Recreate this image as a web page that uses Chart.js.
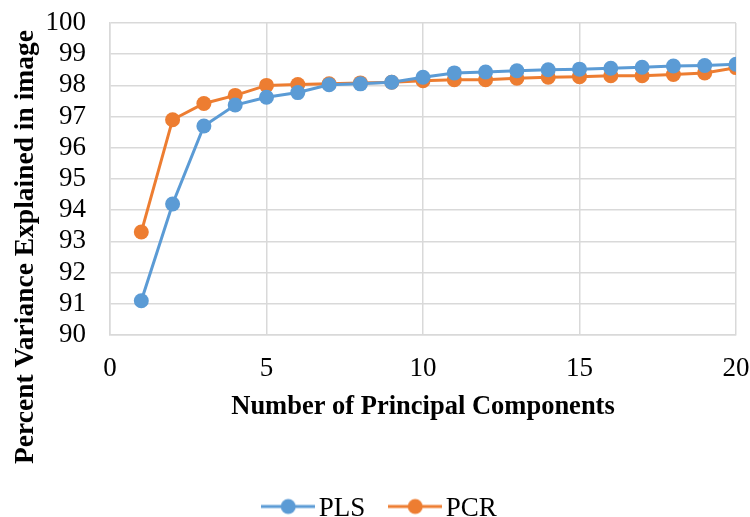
<!DOCTYPE html>
<html>
<head>
<meta charset="utf-8">
<script src="https://cdn.jsdelivr.net/npm/chart.js@4/dist/chart.umd.min.js"></script>
<style>
html,body{margin:0;padding:0;background:#fff;}
#wrap{width:750px;height:517px;}
</style>
</head>
<body>
<div id="wrap"><canvas id="c" width="750" height="517"></canvas></div>
<script>
const components = [1,2,3,4,5,6,7,8,9,10,11,12,13,14,15,16,17,18,19,20];
const plsValues = [91.1,94.2,96.7,97.37,97.62,97.77,98.02,98.05,98.1,98.26,98.4,98.43,98.47,98.5,98.52,98.55,98.58,98.62,98.64,98.68];
const pcrValues = [93.3,96.9,97.42,97.68,98.0,98.03,98.05,98.08,98.1,98.15,98.18,98.18,98.23,98.26,98.28,98.31,98.31,98.35,98.4,98.57];
const seriesNames = ['PLS','PCR'];
const xTitle = 'Number of Principal Components';
const yTitle = 'Percent Variance Explained in image';

const FONT = '"Liberation Serif", "Times New Roman", serif';
const BLUE = '#5b9bd5', ORANGE = '#ed7d31', GRID = '#d9d9d9';

function legendIcon(color){
  const cv = document.createElement('canvas');
  cv.width = 54; cv.height = 22;
  const g = cv.getContext('2d');
  g.strokeStyle = color; g.lineWidth = 3;
  g.beginPath(); g.moveTo(0,9); g.lineTo(54,9); g.stroke();
  g.fillStyle = color; g.beginPath(); g.arc(27,9,7.5,0,Math.PI*2); g.fill();
  return cv;
}

const yTitlePlugin = {
  id:'yTitle',
  afterDraw(chart){
    const ctx = chart.ctx;
    ctx.save();
    ctx.translate(33, 247);
    ctx.rotate(-Math.PI/2);
    ctx.font = 'bold 27.5px ' + FONT;
    ctx.fillStyle = '#000';
    ctx.textAlign = 'center';
    ctx.textBaseline = 'alphabetic';
    ctx.fillText(yTitle, 0, 0);
    ctx.restore();
  }
};

const mk = arr => components.map((x,i)=>({x:x, y:arr[i]}));

new Chart(document.getElementById('c'), {
  type:'line',
  data:{
    datasets:[
      {label:seriesNames[0], data:mk(plsValues), borderColor:BLUE, backgroundColor:BLUE,
       borderWidth:3, pointRadius:7.5, pointHoverRadius:7.5, pointBorderWidth:0, pointStyle:'circle', tension:0},
      {label:seriesNames[1], data:mk(pcrValues), borderColor:ORANGE, backgroundColor:ORANGE,
       borderWidth:3, pointRadius:7.5, pointHoverRadius:7.5, pointBorderWidth:0, pointStyle:'circle', tension:0}
    ]
  },
  options:{
    responsive:false,
    animation:false,
    devicePixelRatio:1,
    layout:{padding:{left:18,right:0,top:23,bottom:-15}},
    plugins:{
      tooltip:{enabled:false},
      legend:{
        position:'bottom',
        labels:{
          usePointStyle:true,
          pointStyleWidth:34,
          padding:33,
          color:'#000',
          font:{family:FONT,size:27},
          generateLabels(chart){
            return chart.data.datasets.map((ds,i)=>({
              text:ds.label, datasetIndex:i, pointStyle:legendIcon(ds.borderColor),
              fillStyle:ds.borderColor, strokeStyle:ds.borderColor, lineWidth:0, hidden:false, fontColor:'#000'
            }));
          }
        }
      }
    },
    scales:{
      x:{
        type:'linear', min:0, max:20,
        ticks:{stepSize:5, color:'#000', font:{family:FONT,size:27}, padding:18, maxRotation:0},
        grid:{color:GRID, lineWidth:1.5, drawTicks:false},
        border:{color:GRID, width:1.5},
        title:{display:true, text:xTitle, color:'#000', font:{family:FONT,size:26.5,weight:'bold'}, padding:{top:0,bottom:39}},
        afterFit(s){ s.height = 127; s.paddingRight = 14; s.paddingLeft = 0; }
      },
      y:{
        min:90, max:100,
        ticks:{stepSize:1, autoSkip:false, color:'#000', font:{family:FONT,size:27}, padding:24},
        grid:{color:GRID, lineWidth:1.5, drawTicks:false},
        border:{color:GRID, width:1.5},
        afterFit(s){ s.width = 92; s.paddingTop = 0; s.paddingBottom = 0; }
      }
    }
  },
  plugins:[yTitlePlugin]
});
</script>
</body>
</html>
